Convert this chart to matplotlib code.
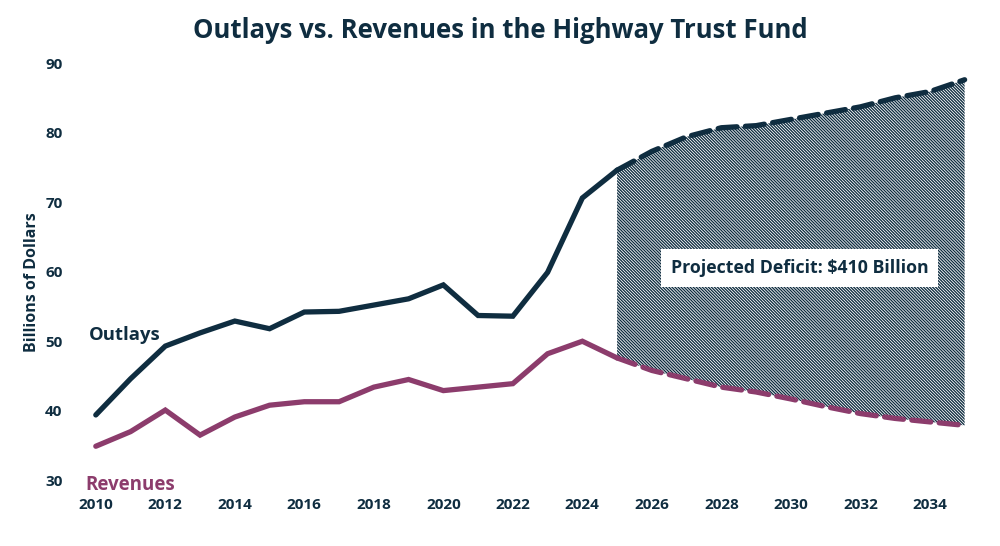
import matplotlib
matplotlib.use("Agg")
import matplotlib.pyplot as plt

plt.rcParams['font.family'] = ['Open Sans', 'DejaVu Sans']
plt.rcParams['hatch.linewidth'] = 0.95

NAVY = '#0f2d40'
PLUM = '#8c3c6c'

years_hist = list(range(2010, 2026))
outlays_hist = [39.4, 44.6, 49.3, 51.2, 52.9, 51.8, 54.2, 54.3, 55.2, 56.1,
                58.1, 53.7, 53.6, 59.9, 70.6, 74.6]
revenues_hist = [34.9, 37.0, 40.1, 36.5, 39.1, 40.8, 41.3, 41.3, 43.4, 44.5,
                 42.9, 43.4, 43.9, 48.2, 50.0, 47.6]

years_proj = list(range(2025, 2036))
outlays_proj = [74.6, 77.3, 79.4, 80.7, 81.0, 81.9, 82.8, 83.7, 85.0, 85.9, 87.6]
revenues_proj = [47.6, 45.8, 44.6, 43.4, 42.7, 41.7, 40.6, 39.6, 38.9, 38.4, 37.9]

x_ticks = list(range(2010, 2035, 2))
y_ticks = list(range(30, 91, 10))

fig = plt.figure(figsize=(10, 5.46), dpi=100)
ax = fig.add_axes([0.068, 0.105, 0.914, 0.805])

# deficit area
ax.fill_between(years_proj, revenues_proj, outlays_proj, facecolor='white',
                edgecolor=NAVY, hatch='\\' * 11, linewidth=0, zorder=1)

ax.plot(years_hist, outlays_hist, color=NAVY, lw=3.8, solid_capstyle='round',
        solid_joinstyle='miter', zorder=3)
ax.plot(years_hist, revenues_hist, color=PLUM, lw=3.8, solid_capstyle='round',
        solid_joinstyle='miter', zorder=3)
ax.plot(years_proj, outlays_proj, color=NAVY, lw=3.8, dashes=(3.6, 1.6),
        dash_capstyle='round', zorder=3)
ax.plot(years_proj, revenues_proj, color=PLUM, lw=3.8, dashes=(3.6, 1.6),
        dash_capstyle='round', zorder=3)

ax.text(2010.83, 50.9, 'Outlays', color=NAVY, fontsize=13.3, fontweight='bold',
        ha='center', va='center')
ax.text(2010.98, 29.3, 'Revenues', color=PLUM, fontsize=13.5, fontweight='bold',
        ha='center', va='center')
ax.text(2030.26, 60.5, 'Projected Deficit: $410 Billion', color=NAVY,
        fontsize=12.8, fontweight='bold', ha='center', va='center', zorder=4,
        bbox=dict(boxstyle='square,pad=0.55', facecolor='white', edgecolor='none'))

ax.set_xlim(2009.2, 2035.5)
ax.set_ylim(28.8, 92)
ax.set_xticks(x_ticks)
ax.set_yticks(y_ticks)
ax.tick_params(length=0, labelsize=11, labelcolor=NAVY)
ax.tick_params(axis='x', pad=7)
ax.tick_params(axis='y', pad=4)
for lab in ax.get_xticklabels() + ax.get_yticklabels():
    lab.set_fontweight('bold')
for s in ax.spines.values():
    s.set_visible(False)

fig.text(0.032, 1 - 282 / 546, 'Billions of Dollars', rotation=90, color=NAVY,
         fontsize=11.5, fontweight='bold', ha='center', va='center')
fig.text(0.5, 1 - 30 / 546, 'Outlays vs. Revenues in the Highway Trust Fund',
         color=NAVY, fontsize=18.5, fontweight='bold', ha='center', va='center')

fig.savefig('out.png', dpi=100, facecolor='white')
